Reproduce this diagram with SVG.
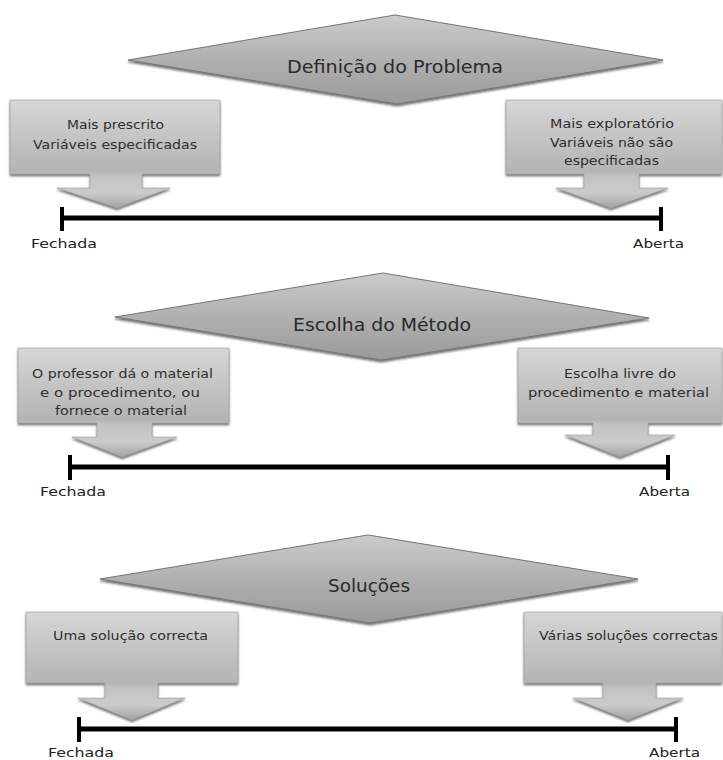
<svg xmlns="http://www.w3.org/2000/svg" width="723" height="760" viewBox="0 0 723 760">
<style>
.title{font-family:"DejaVu Sans","Liberation Sans",sans-serif;font-size:18px;fill:#2a2a2a}
.btxt{font-family:"DejaVu Sans","Liberation Sans",sans-serif;font-size:12.5px;fill:#2e2e2e}
.lbl{font-family:"DejaVu Sans","Liberation Sans",sans-serif;font-size:13px;fill:#222}
.diam{fill:url(#gDiam);stroke:#767676;stroke-width:1;filter:url(#shadow)}
.call{fill:url(#gCall);stroke:#9a9a9a;stroke-width:0.6;filter:url(#shadow)}
.axis{stroke:#000;stroke-width:5;fill:none}
.tick{stroke:#000;stroke-width:4;fill:none}
</style>
<defs>
<linearGradient id="gDiam" x1="0" y1="0" x2="0" y2="1">
<stop offset="0" stop-color="#cbcbcb"/>
<stop offset="0.5" stop-color="#b0b0b0"/>
<stop offset="1" stop-color="#9a9a9a"/>
</linearGradient>
<linearGradient id="gCall" x1="0" y1="0" x2="0" y2="1">
<stop offset="0" stop-color="#d6d6d6"/>
<stop offset="0.66" stop-color="#b4b4b4"/>
<stop offset="0.70" stop-color="#c2c2c2"/>
<stop offset="0.86" stop-color="#cbcbcb"/>
<stop offset="1" stop-color="#a2a2a2"/>
</linearGradient>
<filter id="shadow" x="-5%" y="-5%" width="110%" height="120%">
<feDropShadow dx="0" dy="2" stdDeviation="1" flood-color="#383838" flood-opacity="0.7"/>
</filter>
</defs>

<!-- Section 1 -->
<g id="titulo-definicao">
<path class="diam" d="M128,60 L395,15 L663,60 L397,104 Z"/>
<text class="title" x="287" y="73" textLength="216" lengthAdjust="spacingAndGlyphs">Definição do Problema</text>
</g>
<g id="def-fechada">
<path class="call" d="M10,100 H220 V174 H142 V188 H170 L117,208 L57,188 H90 V174 H10 Z"/>
<text class="btxt" x="67" y="129" textLength="97" lengthAdjust="spacingAndGlyphs">Mais prescrito</text>
<text class="btxt" x="33" y="149" textLength="164" lengthAdjust="spacingAndGlyphs">Variáveis especificadas</text>
</g>
<g id="def-aberta">
<path class="call" d="M506,100 H722 V174 H639 V188 H668 L611,208 L556,188 H584 V174 H506 Z"/>
<text class="btxt" x="550" y="128" textLength="124" lengthAdjust="spacingAndGlyphs">Mais exploratório</text>
<text class="btxt" x="550" y="147" textLength="123" lengthAdjust="spacingAndGlyphs">Variáveis não são</text>
<text class="btxt" x="564" y="165" textLength="95" lengthAdjust="spacingAndGlyphs">especificadas</text>
</g>

<!-- Section 2 -->
<g id="titulo-metodo">
<path class="diam" d="M115,317 L383,273 L649,318 L381,360 Z"/>
<text class="title" x="293" y="331" textLength="178" lengthAdjust="spacingAndGlyphs">Escolha do Método</text>
</g>
<g id="met-fechada">
<path class="call" d="M18,348 H229 V423 H152 V437 H177 L122,457 L72,437 H97 V423 H18 Z"/>
<text class="btxt" x="32" y="378" textLength="181" lengthAdjust="spacingAndGlyphs">O professor dá o material</text>
<text class="btxt" x="40" y="397" textLength="160" lengthAdjust="spacingAndGlyphs">e o procedimento, ou</text>
<text class="btxt" x="55" y="415" textLength="132" lengthAdjust="spacingAndGlyphs">fornece o material</text>
</g>
<g id="met-aberta">
<path class="call" d="M518,348 H722 V423 H648 V435 H675 L620,457 L565,435 H593 V423 H518 Z"/>
<text class="btxt" x="564" y="378" textLength="112" lengthAdjust="spacingAndGlyphs">Escolha livre do</text>
<text class="btxt" x="528" y="397" textLength="181" lengthAdjust="spacingAndGlyphs">procedimento e material</text>
</g>

<!-- Section 3 -->
<g id="titulo-solucoes">
<path class="diam" d="M100,579 L368,535 L638,579 L370,623 Z"/>
<text class="title" x="328" y="592" textLength="82" lengthAdjust="spacingAndGlyphs">Soluções</text>
</g>
<g id="sol-fechada">
<path class="call" d="M26,612 H238 V683 H158 V698 H185 L132,720 L78,698 H105 V683 H26 Z"/>
<text class="btxt" x="53" y="640" textLength="155" lengthAdjust="spacingAndGlyphs">Uma solução correcta</text>
</g>
<g id="sol-aberta">
<path class="call" d="M524,612 H722 V683 H656 V698 H683 L628,720 L573,698 H603 V683 H524 Z"/>
<text class="btxt" x="539" y="640" textLength="179" lengthAdjust="spacingAndGlyphs">Várias soluções correctas</text>
</g>

<!-- Scales -->
<g id="connectors">
<line class="axis" x1="62" y1="218" x2="661" y2="218"/>
<line class="tick" x1="62" y1="207" x2="62" y2="231"/>
<line class="tick" x1="661" y1="207" x2="661" y2="231"/>
<line class="axis" x1="70" y1="467" x2="668" y2="467"/>
<line class="tick" x1="70" y1="455" x2="70" y2="480"/>
<line class="tick" x1="668" y1="455" x2="668" y2="480"/>
<line class="axis" x1="79" y1="729" x2="676" y2="729"/>
<line class="tick" x1="79" y1="717" x2="79" y2="742"/>
<line class="tick" x1="676" y1="717" x2="676" y2="742"/>
</g>
<g id="labels">
<text class="lbl" x="31" y="248" textLength="66" lengthAdjust="spacingAndGlyphs">Fechada</text>
<text class="lbl" x="633" y="248" textLength="51" lengthAdjust="spacingAndGlyphs">Aberta</text>
<text class="lbl" x="40" y="496" textLength="66" lengthAdjust="spacingAndGlyphs">Fechada</text>
<text class="lbl" x="639" y="496" textLength="51" lengthAdjust="spacingAndGlyphs">Aberta</text>
<text class="lbl" x="48" y="757" textLength="66" lengthAdjust="spacingAndGlyphs">Fechada</text>
<text class="lbl" x="649" y="757" textLength="51" lengthAdjust="spacingAndGlyphs">Aberta</text>
</g>
</svg>
